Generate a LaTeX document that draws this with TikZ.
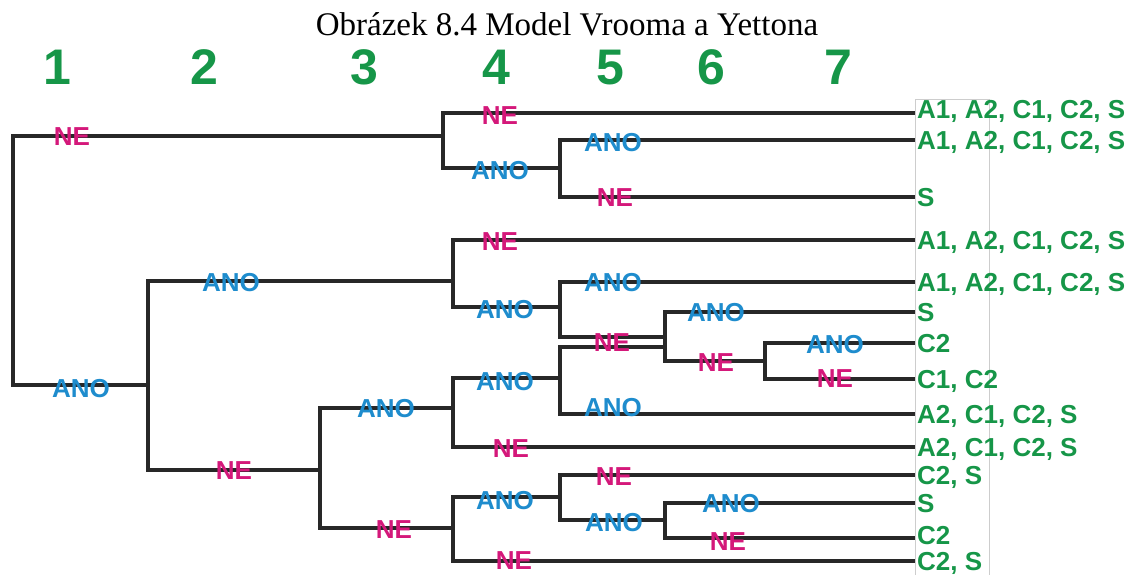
\documentclass[tikz,border=0pt]{standalone}
\usepackage{fontspec}
\setmainfont{Liberation Serif}
\newfontfamily\arialfam{Liberation Sans}
\newcommand\titlefont{\rmfamily\fontsize{33}{33}\selectfont}
\newcommand\labfont{\arialfam\bfseries\fontsize{26}{26}\selectfont}
\newcommand\leaffont{\arialfam\bfseries\fontsize{26}{26}\selectfont}
\newcommand\levelfont{\arialfam\bfseries\fontsize{50}{50}\selectfont}
\definecolor{wire}{RGB}{40,40,40}
\definecolor{ne}{RGB}{212,24,122}
\definecolor{ano}{RGB}{30,140,205}
\definecolor{grn}{RGB}{22,150,72}
\definecolor{boxgray}{RGB}{205,205,205}
\begin{document}
\begin{tikzpicture}[x=1pt,y=-1pt,
  wire/.style={line width=4.5pt, draw=wire, line join=miter},
  yes/.style={font=\labfont, text=ano, inner sep=0pt, text depth=0pt},
  no/.style={font=\labfont, text=ne, inner sep=0pt, text depth=0pt},
  leaf/.style={font=\leaffont, text=grn, anchor=west, inner xsep=2pt, inner ysep=0pt, text depth=0pt},
  raised/.style={text depth=8pt},
  level/.style={font=\levelfont, text=grn, anchor=base},
]
\useasboundingbox (0,0) rectangle (1127,575);

% caption
\node[font=\titlefont, anchor=base] (title) at (567,36) {Obrázek 8.4 Model Vrooma a Yettona};

% level numbers
\node[level] (d1) at (57,85) {1};
\node[level] (d2) at (204,85) {2};
\node[level] (d3) at (364,85) {3};
\node[level] (d4) at (496,85) {4};
\node[level] (d5) at (610,85) {5};
\node[level] (d6) at (711,85) {6};
\node[level] (d7) at (838,85) {7};

% frame behind the outcome column
\draw[draw=boxgray, line width=0.8pt] (915,99) rectangle (989,590);

% decision points
\coordinate (J1) at (13,260);
\coordinate (J4a) at (443,136);
\coordinate (J5a) at (560,168);
\coordinate (J2) at (148,385);
\coordinate (J4b) at (453,281);
\coordinate (J5b) at (560,307);
\coordinate (J6) at (665,337);
\coordinate (J6x) at (665,347);
\coordinate (J7) at (765,361);
\coordinate (J3) at (320,470);
\coordinate (J4c) at (453,408);
\coordinate (J5c) at (560,378);
\coordinate (J4d) at (453,528);
\coordinate (J5d) at (560,497);
\coordinate (J6b) at (665,520);

% outcomes
\node[leaf, raised] (L1) at (915,113) {A1, A2, C1, C2, S};
\node[leaf] (L2) at (915,140) {A1, A2, C1, C2, S};
\node[leaf] (L3) at (915,197) {S};
\node[leaf] (L4) at (915,240) {A1, A2, C1, C2, S};
\node[leaf] (L5) at (915,282) {A1, A2, C1, C2, S};
\node[leaf] (L6) at (915,312) {S};
\node[leaf] (L7) at (915,343) {C2};
\node[leaf] (L8) at (915,379) {C1, C2};
\node[leaf] (L9) at (915,414) {A2, C1, C2, S};
\node[leaf] (L10) at (915,447) {A2, C1, C2, S};
\node[leaf] (L11) at (915,475) {C2, S};
\node[leaf] (L12) at (915,503) {S};
\node[leaf, text depth=6pt] (L13) at (915,538) {C2};
\node[leaf] (L14) at (915,561) {C2, S};

% branches
\draw[wire] (J1) |- (J4a);
\draw[wire] (J1) |- (J2);
\draw[wire] (J4a) |- (L1.west);
\draw[wire] (J4a) |- (J5a);
\draw[wire] (J5a) |- (L2.west);
\draw[wire] (J5a) |- (L3.west);
\draw[wire] (J2) |- (J4b);
\draw[wire] (J2) |- (J3);
\draw[wire] (J4b) |- (L4.west);
\draw[wire] (J4b) |- (J5b);
\draw[wire] (J5b) |- (L5.west);
\draw[wire] (J5b) |- (J6);
\draw[wire] (J6) |- (L6.west);
\draw[wire] (J6) |- (J7);
\draw[wire] (J7) |- (L7.west);
\draw[wire] (J7) |- (L8.west);
\draw[wire] (J3) |- (J4c);
\draw[wire] (J3) |- (J4d);
\draw[wire] (J4c) |- (J5c);
\draw[wire] (J4c) |- (L10.west);
\draw[wire] (J5c) |- (J6x);
\draw[wire] (J5c) |- (L9.west);
\draw[wire] (J4d) |- (J5d);
\draw[wire] (J4d) |- (L14.west);
\draw[wire] (J5d) |- (L11.west);
\draw[wire] (J5d) |- (J6b);
\draw[wire] (J6b) |- (L12.west);
\draw[wire] (J6b) |- (L13.west);

% answers on the branches
\node[no]  (n1)  at (72,137)  {NE};
\node[yes] (a1)  at (81,388)  {ANO};
\node[yes] (a2)  at (231,282) {ANO};
\node[no]  (n2)  at (234,471) {NE};
\node[yes] (a3)  at (386,408) {ANO};
\node[no]  (n3)  at (394,530) {NE};
\node[no]  (n4)  at (500,116) {NE};
\node[yes] (a4)  at (500,170) {ANO};
\node[yes] (a5)  at (613,142) {ANO};
\node[no]  (n5)  at (615,198) {NE};
\node[no]  (n6)  at (500,242) {NE};
\node[yes] (a6)  at (505,309) {ANO};
\node[yes] (a7)  at (613,282) {ANO};
\node[no]  (n7)  at (612,343) {NE};
\node[yes] (a8)  at (716,312) {ANO};
\node[no]  (n8)  at (716,363) {NE};
\node[yes] (a9)  at (835,344) {ANO};
\node[no]  (n9)  at (835,379) {NE};
\node[yes] (a10) at (505,381) {ANO};
\node[yes] (a11) at (613,407) {ANO};
\node[no]  (n10) at (511,449) {NE};
\node[yes] (a12) at (505,500) {ANO};
\node[no]  (n11) at (614,477) {NE};
\node[yes] (a13) at (614,522) {ANO};
\node[yes] (a14) at (731,503) {ANO};
\node[no]  (n12) at (728,542) {NE};
\node[no]  (n13) at (514,561) {NE};
\end{tikzpicture}
\end{document}
